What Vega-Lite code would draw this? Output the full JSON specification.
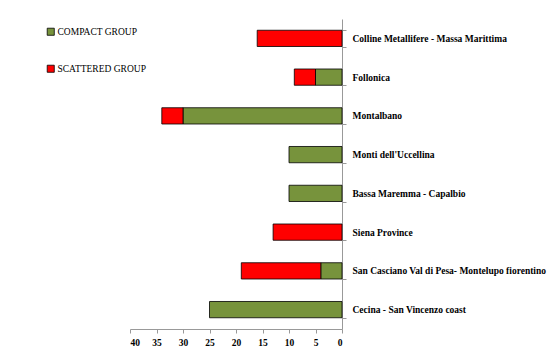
{
  "$schema": "https://vega.github.io/schema/vega-lite/v6.json",
  "autosize": {"type": "none"},
  "padding": {"left": 130, "top": 19, "right": 208, "bottom": 33},
  "width": 212,
  "height": 310,
  "background": "white",
  "config": {"view": {"stroke": null}, "font": "Liberation Serif"},
  "data": {"values": [
    {"area": "Colline Metallifere  - Massa Marittima", "group": "COMPACT GROUP", "ord": 1, "value": 0},
    {"area": "Colline Metallifere  - Massa Marittima", "group": "SCATTERED GROUP", "ord": 2, "value": 16},
    {"area": "Follonica", "group": "COMPACT GROUP", "ord": 1, "value": 5},
    {"area": "Follonica", "group": "SCATTERED GROUP", "ord": 2, "value": 4},
    {"area": "Montalbano", "group": "COMPACT GROUP", "ord": 1, "value": 30},
    {"area": "Montalbano", "group": "SCATTERED GROUP", "ord": 2, "value": 4},
    {"area": "Monti dell'Uccellina", "group": "COMPACT GROUP", "ord": 1, "value": 10},
    {"area": "Monti dell'Uccellina", "group": "SCATTERED GROUP", "ord": 2, "value": 0},
    {"area": "Bassa Maremma - Capalbio", "group": "COMPACT GROUP", "ord": 1, "value": 10},
    {"area": "Bassa Maremma - Capalbio", "group": "SCATTERED GROUP", "ord": 2, "value": 0},
    {"area": "Siena Province", "group": "COMPACT GROUP", "ord": 1, "value": 0},
    {"area": "Siena Province", "group": "SCATTERED GROUP", "ord": 2, "value": 13},
    {"area": "San Casciano Val di Pesa- Montelupo fiorentino", "group": "COMPACT GROUP", "ord": 1, "value": 4},
    {"area": "San Casciano Val di Pesa- Montelupo fiorentino", "group": "SCATTERED GROUP", "ord": 2, "value": 15},
    {"area": "Cecina - San Vincenzo coast", "group": "COMPACT GROUP", "ord": 1, "value": 25},
    {"area": "Cecina - San Vincenzo coast", "group": "SCATTERED GROUP", "ord": 2, "value": 0}
  ]},
  "transform": [{"filter": "datum.value > 0"}],
  "mark": {"type": "bar", "stroke": "black", "strokeWidth": 0.8},
  "encoding": {
    "y": {
      "field": "area", "type": "nominal", "sort": null,
      "scale": {"paddingInner": 0.58, "paddingOuter": 0.29},
      "axis": {
        "orient": "right", "title": null, "tickBand": "extent", "tickSize": 4,
        "domainColor": "#999999", "tickColor": "#999999",
        "labelFont": "Liberation Serif", "labelFontSize": 9.5, "labelFontWeight": "bold",
        "labelColor": "black", "labelPadding": 6, "labelLimit": 0
      }
    },
    "x": {
      "field": "value", "type": "quantitative", "stack": "zero",
      "scale": {"domain": [0, 40], "reverse": true, "nice": false},
      "axis": {
        "title": null, "values": [0, 5, 10, 15, 20, 25, 30, 35, 40], "grid": false,
        "tickSize": 4, "domainColor": "#999999", "tickColor": "#999999",
        "labelFont": "Liberation Serif", "labelFontSize": 9.5, "labelFontWeight": "bold",
        "labelColor": "black", "labelPadding": 4
      }
    },
    "color": {
      "field": "group", "type": "nominal",
      "scale": {"domain": ["COMPACT GROUP", "SCATTERED GROUP"], "range": ["#77933C", "#FF0000"]},
      "legend": {
        "title": null, "orient": "none", "legendX": -84, "legendY": 8,
        "symbolType": "square", "symbolSize": 50, "symbolStrokeColor": "black", "symbolStrokeWidth": 0.8,
        "labelFont": "Liberation Serif", "labelFontSize": 9.5, "labelColor": "black",
        "labelOffset": 2, "rowPadding": 26
      }
    },
    "order": {"field": "ord", "type": "quantitative"}
  }
}
